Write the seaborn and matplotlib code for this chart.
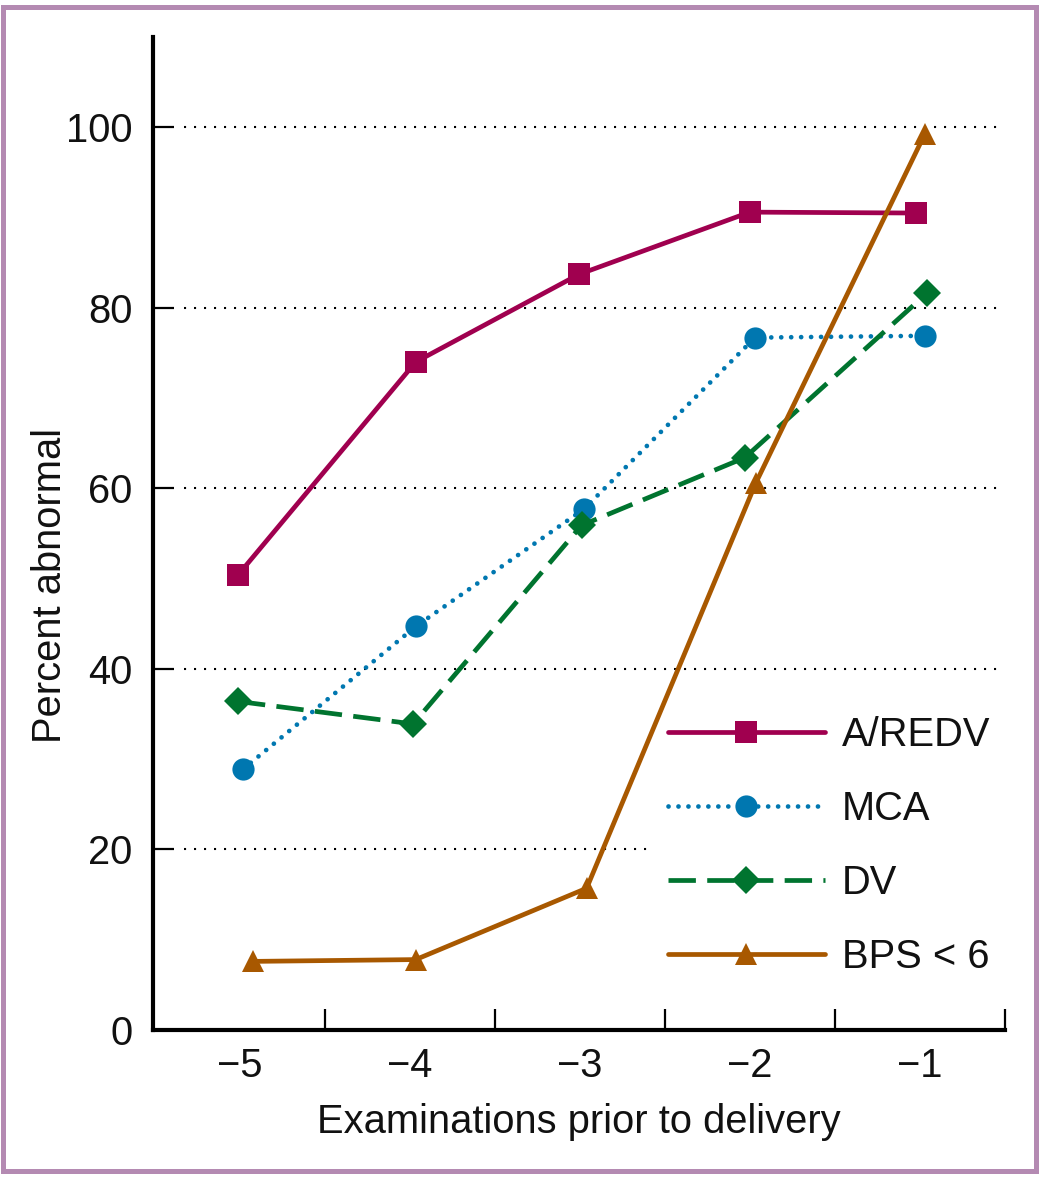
import numpy as np
import pandas as pd
import matplotlib
matplotlib.use("Agg")
import matplotlib.pyplot as plt
from matplotlib.patches import Rectangle
import seaborn as sns

# values (x slightly staggered per series, as drawn)
series_names = ["A/REDV", "MCA", "DV", "BPS < 6"]
aredv_x = [-5.01, -3.965, -3.006, -2.0, -1.024]
aredv_y = [50.4, 74.0, 83.7, 90.6, 90.5]
mca_x = [-4.98, -3.965, -2.976, -1.97, -0.97]
mca_y = [28.9, 44.7, 57.7, 76.7, 76.9]
dv_x = [-5.01, -3.98, -2.99, -2.03, -0.96]
dv_y = [36.4, 33.9, 55.9, 63.4, 81.6]
bps_x = [-4.92, -3.965, -2.96, -1.965, -0.97]
bps_y = [7.6, 7.8, 15.7, 60.6, 99.3]

x_labels = ["\u22125", "\u22124", "\u22123", "\u22122", "\u22121"]
x_label_pos = [-5, -4, -3, -2, -1]
x_tick_pos = [-4.5, -3.5, -2.5, -1.5, -0.5]
y_ticks = [0, 20, 40, 60, 80, 100]

colors = ["#A0004F", "#0077B0", "#00742F", "#A85800"]
txt = "#111111"
fs = 28.7

sns.set_theme(style="white")
plt.rcParams["font.family"] = ["Liberation Sans", "DejaVu Sans"]
plt.rcParams["text.color"] = txt

fig = plt.figure(figsize=(10.5, 11.82), dpi=100)
ax = fig.add_axes([0.1457, 0.1286, 0.8114, 0.8401])

# dotted reference lines (the 20 line stops short of the legend)
grid_ends = {20: -2.6}
for yv in y_ticks[1:]:
    ax.hlines(yv, -5.33, grid_ends.get(yv, -0.53), colors="black",
              linestyles=(0, (1.0, 3.8)), linewidth=1.5, zorder=1)

data = [
    (aredv_x, aredv_y, "s", 16, "-", None),
    (mca_x, mca_y, "o", 16, (0, (0.01, 2.1)), "round"),
    (dv_x, dv_y, "D", 14, (0, (5.8, 2.4)), "butt"),
    (bps_x, bps_y, "^", 16, "-", None),
]
for name, col, (xs, ys, mk, ms, ls, cap) in zip(series_names, colors, data):
    df = pd.DataFrame({"x": xs, "y": ys})
    kw = dict(marker=mk, markersize=ms, markeredgewidth=0, linestyle=ls,
              linewidth=3.4, color=col, label=name, sort=False, zorder=3)
    if cap:
        kw["dash_capstyle"] = cap
    sns.lineplot(data=df, x="x", y="y", ax=ax, **kw)

ax.set_xlim(-5.51, -0.5)
ax.set_ylim(0, 110)

ax.set_xticks(x_tick_pos)
ax.set_xticklabels([])
ax.set_xticks(x_label_pos, minor=True)
ax.set_xticklabels(x_labels, minor=True)
ax.tick_params(axis="x", which="major", direction="in", length=15, width=1.6,
               color="black", bottom=True)
ax.tick_params(axis="x", which="minor", length=0, pad=12, labelsize=fs,
               labelcolor=txt, bottom=True)
ax.set_yticks(y_ticks)
ax.tick_params(axis="y", direction="in", length=15, width=1.6, color="black",
               pad=15, labelsize=fs, labelcolor=txt, left=True)

for s in ["top", "right"]:
    ax.spines[s].set_visible(False)
for s in ["left", "bottom"]:
    ax.spines[s].set_linewidth(3.0)
    ax.spines[s].set_color("black")

ax.set_xlabel("Examinations prior to delivery", fontsize=fs, labelpad=13, color=txt)
ax.set_ylabel("Percent abnormal", fontsize=fs, color=txt)
ax.yaxis.set_label_coords(-0.099, 0.448)

ax.legend(loc="upper left", bbox_to_anchor=(0.604, 0.316), frameon=False,
          fontsize=fs, handlelength=3.95, handletextpad=0.42, labelspacing=0.9,
          borderpad=0, borderaxespad=0, numpoints=1, labelcolor=txt)

fig.patches.append(Rectangle((0.003, 0.0095), 0.984, 0.985, transform=fig.transFigure,
                             fill=False, edgecolor="#B48AB2", linewidth=3.6))

fig.savefig("out.png", dpi=100, facecolor="white")
